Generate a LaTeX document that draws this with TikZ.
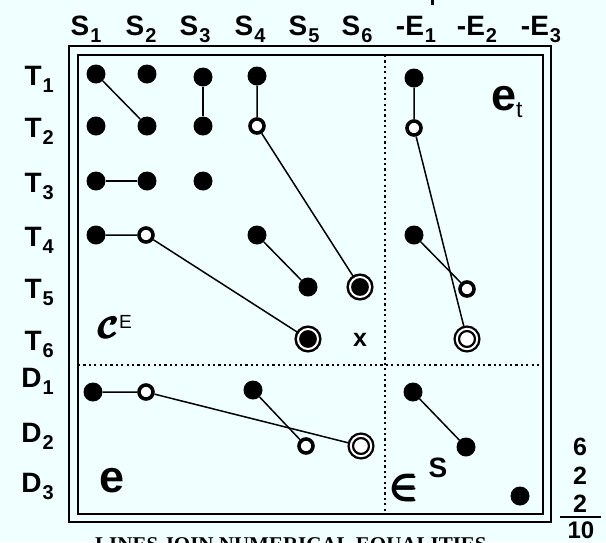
\RequirePackage{fix-cm}
\documentclass[tikz,border=0pt]{standalone}
\usepackage{amsmath}
\usepackage{fontspec}
\setmainfont{Liberation Sans}
\newfontfamily\notefont{Liberation Serif}
\definecolor{bgazure}{RGB}{240,255,255}
% label with lowered index
\newcommand{\lbl}[2]{#1\kern1pt\raisebox{-7pt}{\fontsize{20}{20}\selectfont #2}}
\newcommand{\calC}{\mbox{\boldmath$\pmb{\mathcal{C}}$}}
\newcommand{\isin}{\mbox{\boldmath$\pmb{\in}$}}

\begin{document}
\begin{tikzpicture}[x=1pt,y=-1pt,
    lab/.style={font=\fontsize{28}{28}\selectfont\bfseries,inner sep=0pt,anchor=base},
    dot/.style={circle,fill=black,inner sep=0pt,minimum size=19pt},
    hollow/.style={circle,draw=black,fill=white,line width=3.6pt,inner sep=0pt,minimum size=14pt},
    ringdot/.style={circle,draw=black,fill=black,double=white,double distance=2pt,line width=2.5pt,inner sep=0pt,minimum size=20pt},
    ringhollow/.style={circle,draw=black,fill=white,double=white,double distance=2pt,line width=2.3pt,inner sep=0pt,minimum size=20.4pt},
    eqline/.style={line width=1.5pt},
    boxline/.style={line width=2pt},
    split/.style={line width=2.2pt,dash pattern=on 2.2pt off 3.2pt}]
  \fill[bgazure] (0,0) rectangle (606,542);
  \useasboundingbox (0,0) rectangle (606,542);

  % frame
  \coordinate (outerNW) at (69,46);  \coordinate (outerSE) at (551,522);
  \coordinate (innerNW) at (78,55);  \coordinate (innerSE) at (543,514);
  \draw[boxline] (outerNW) rectangle (outerSE);
  \draw[boxline] (innerNW) rectangle (innerSE);
  \coordinate (vtop) at (385,55);   \coordinate (vbot) at (385,514);
  \coordinate (hleft) at (78,365);  \coordinate (hright) at (543,365);
  \draw[split] (vtop) -- (vbot);
  \draw[split] (hleft) -- (hright);

  % column heads
  \node[lab] (hS1) at (86,35) {\lbl{S}{1}};
  \node[lab] (hS2) at (141,35) {\lbl{S}{2}};
  \node[lab] (hS3) at (195,35) {\lbl{S}{3}};
  \node[lab] (hS4) at (250,35) {\lbl{S}{4}};
  \node[lab] (hS5) at (304,35) {\lbl{S}{5}};
  \node[lab] (hS6) at (357,35) {\lbl{S}{6}};
  \node[lab] (hE1) at (416,35) {-\lbl{E}{1}};
  \node[lab] (hE2) at (477,35) {-\lbl{E}{2}};
  \node[lab] (hE3) at (541,35) {-\lbl{E}{3}};
  \fill (431,0) rectangle (433.5,5);

  % row heads
  \node[lab,anchor=base east] (hT1) at (54,85) {\lbl{T}{1}};
  \node[lab,anchor=base east] (hT2) at (54,137) {\lbl{T}{2}};
  \node[lab,anchor=base east] (hT3) at (54,192) {\lbl{T}{3}};
  \node[lab,anchor=base east] (hT4) at (54,246) {\lbl{T}{4}};
  \node[lab,anchor=base east] (hT5) at (54,298) {\lbl{T}{5}};
  \node[lab,anchor=base east] (hT6) at (54,350) {\lbl{T}{6}};
  \node[lab,anchor=base east] (hD1) at (54,387) {\lbl{D}{1}};
  \node[lab,anchor=base east] (hD2) at (54,442) {\lbl{D}{2}};
  \node[lab,anchor=base east] (hD3) at (54,492) {\lbl{D}{3}};

  % values
  \node[dot] (s1t1) at (96,74) {};
  \node[dot] (s2t1) at (147,74) {};
  \node[dot] (s3t1) at (203,77) {};
  \node[dot] (s4t1) at (257,76) {};
  \node[dot] (s1t2) at (96,126) {};
  \node[dot] (s2t2) at (147,126) {};
  \node[dot] (s3t2) at (203,126) {};
  \node[hollow] (s4t2) at (257,126) {};
  \node[dot] (s1t3) at (96,181) {};
  \node[dot] (s2t3) at (147,181) {};
  \node[dot] (s3t3) at (203,181) {};
  \node[dot] (s1t4) at (96,235) {};
  \node[hollow] (s2t4) at (146,235) {};
  \node[dot] (s4t4) at (257,235) {};
  \node[dot] (s5t5) at (308,287) {};
  \node[ringdot] (s6t5) at (360,287) {};
  \node[ringdot] (s5t6) at (308,339) {};
  \node[dot] (e1t1) at (414,78) {};
  \node[hollow] (e1t2) at (414,128) {};
  \node[dot] (e1t4) at (414,235) {};
  \node[hollow] (e2t5) at (467,289) {};
  \node[ringhollow] (e2t6) at (467,339) {};
  \node[dot] (s1d1) at (93,392) {};
  \node[hollow] (s2d1) at (146,392) {};
  \node[dot] (s4d1) at (253,390) {};
  \node[hollow] (s5d2) at (306,446) {};
  \node[ringhollow] (s6d2) at (361,446) {};
  \node[dot] (e1d1) at (413,392) {};
  \node[dot] (e2d2) at (466,447) {};
  \node[dot] (e3d3) at (520,496) {};

  % equal values
  \draw[eqline] (s1t1) -- (s2t2);
  \draw[eqline] (s3t1) -- (s3t2);
  \draw[eqline] (s4t1) -- (s4t2) -- (s6t5);
  \draw[eqline] (s1t3) -- (s2t3);
  \draw[eqline] (s1t4) -- (s2t4) -- (s5t6);
  \draw[eqline] (s4t4) -- (s5t5);
  \draw[eqline] (e1t1) -- (e1t2) -- (e2t6);
  \draw[eqline] (e1t4) -- (e2t5);
  \draw[eqline] (s1d1) -- (s2d1) -- (s6d2);
  \draw[eqline] (s4d1) -- (s5d2);
  \draw[eqline] (e1d1) -- (e2d2);

  % block names
  \node[inner sep=0pt,anchor=base west] (et) at (491,110)
    {\fontsize{45}{45}\selectfont\bfseries e\raisebox{-7pt}{\fontsize{23}{23}\selectfont\mdseries t}};
  \node[inner sep=0pt,anchor=base west] (ce) at (99,338)
    {{\fontsize{30}{30}\selectfont\calC}\raisebox{10pt}{\fontsize{19}{19}\selectfont E}};
  \node[inner sep=0pt,anchor=base] (xmark) at (360,346) {\fontsize{25}{25}\selectfont\bfseries x};
  \node[inner sep=0pt,anchor=base west] (eblk) at (99,492) {\fontsize{45}{45}\selectfont\bfseries e};
  \node[inner sep=0pt,anchor=base] (inS) at (405,498) {\fontsize{38}{38}\selectfont\isin};
  \node[lab] (sS) at (438,477) {S};

  % tally
  \node[lab,font=\fontsize{25}{25}\selectfont\bfseries] (n6) at (580,455) {6};
  \node[lab,font=\fontsize{25}{25}\selectfont\bfseries] (n2a) at (580,484) {2};
  \node[lab,font=\fontsize{25}{25}\selectfont\bfseries] (n2b) at (580,512) {2};
  \coordinate (ruleL) at (560,517); \coordinate (ruleR) at (601,517);
  \draw[line width=2pt] (ruleL) -- (ruleR);
  \node[lab,font=\fontsize{24}{24}\selectfont\bfseries] (n10) at (581,538) {10};

  \node[inner sep=0pt,anchor=base west] (note) at (95,551)
    {\notefont\bfseries\fontsize{21}{21}\selectfont LINES JOIN NUMERICAL EQUALITIES};
\end{tikzpicture}
\end{document}
